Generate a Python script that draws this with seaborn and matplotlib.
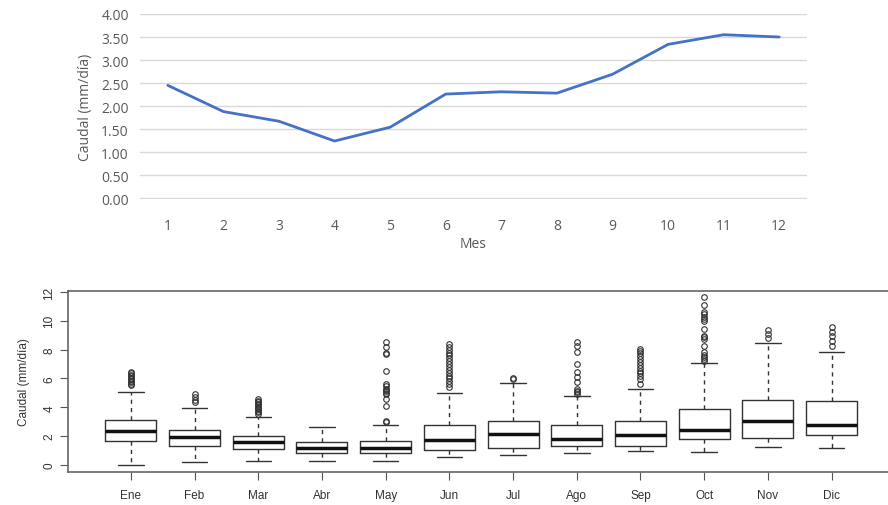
import pandas as pd
import seaborn as sns
import matplotlib.pyplot as plt

# monthly mean discharge (top panel)
meses = list(range(1, 13))
caudal_medio = [2.45, 1.88, 1.67, 1.24, 1.54, 2.26, 2.31, 2.28, 2.69, 3.34, 3.55, 3.50]

# boxplot statistics (bottom panel)
etiquetas = ["Ene", "Feb", "Mar", "Abr", "May", "Jun", "Jul", "Ago", "Sep", "Oct", "Nov", "Dic"]
bigote_inf = [0.00, 0.19, 0.28, 0.28, 0.28, 0.53, 0.69, 0.81, 0.97, 0.88, 1.23, 1.18]
q1 = [1.69, 1.34, 1.11, 0.83, 0.81, 1.04, 1.20, 1.34, 1.34, 1.80, 1.85, 2.10]
mediana = [2.38, 1.96, 1.57, 1.18, 1.18, 1.73, 2.15, 1.80, 2.10, 2.45, 3.07, 2.80]
q3 = [3.12, 2.43, 2.03, 1.57, 1.64, 2.77, 3.03, 2.77, 3.03, 3.88, 4.53, 4.46]
bigote_sup = [5.06, 3.93, 3.31, 2.61, 2.80, 4.97, 5.66, 4.81, 5.27, 7.05, 8.44, 7.82]
atipicos = [
    [5.55, 5.65, 5.75, 5.85, 5.95, 6.05, 6.15, 6.25, 6.35, 6.47],
    [4.35, 4.50, 4.69, 4.92],
    [3.54, 3.65, 3.75, 3.85, 3.95, 4.05, 4.15, 4.25, 4.35, 4.45, 4.58],
    [],
    [2.95, 3.07, 4.11, 4.6, 4.9, 5.0, 5.1, 5.2, 5.3, 5.5, 5.6, 6.5, 7.7, 7.8, 8.16, 8.51],
    [5.39, 5.6, 5.8, 6.0, 6.2, 6.4, 6.6, 6.8, 7.0, 7.2, 7.4, 7.6, 7.8, 8.0, 8.2, 8.39],
    [5.96, 6.05],
    [4.95, 5.06, 5.15, 5.27, 5.78, 6.08, 6.43, 7.0, 7.81, 8.27, 8.51],
    [5.62, 5.96, 6.15, 6.35, 6.55, 6.75, 6.95, 7.15, 7.35, 7.55, 7.75, 7.9, 8.04],
    [7.23, 7.35, 7.5, 7.65, 7.81, 8.27, 8.74, 8.85, 8.97, 9.43, 10.0, 10.15, 10.3, 10.45, 10.59, 11.12, 11.63],
    [8.81, 9.08, 9.38],
    [8.27, 8.62, 8.97, 9.24, 9.59],
]

sns.set_style("white")
fig = plt.figure(figsize=(8.88, 5.06), dpi=100)

# ---- top: line chart
ax1 = fig.add_axes([140 / 888, (506 - 200) / 506, 667 / 888, 185 / 506])
df = pd.DataFrame({"Mes": meses, "Caudal": caudal_medio})
sns.lineplot(data=df, x="Mes", y="Caudal", ax=ax1, color="#4472C4", linewidth=2)
ax1.set_xlim(0.5, 12.5)
ax1.set_ylim(-0.02, 4)
ax1.set_yticks([i * 0.5 for i in range(9)])
ax1.set_yticklabels(["%.2f" % (i * 0.5) for i in range(9)])
ax1.set_xticks(meses)
ax1.yaxis.grid(True, color="#d9d9d9", linewidth=1)
ax1.set_axisbelow(True)
for s in ax1.spines.values():
    s.set_visible(False)
gris = "#595959"
ax1.tick_params(axis="both", length=0, labelsize=10, labelcolor=gris, pad=8)
ax1.tick_params(axis="x", pad=14)
ax1.set_xlabel("Mes", fontsize=10, color=gris, labelpad=2)
ax1.set_ylabel("Caudal (mm/día)", fontsize=10, color=gris, labelpad=6)
for t in ax1.get_xticklabels() + ax1.get_yticklabels():
    t.set_family("Open Sans")
ax1.xaxis.label.set_family("Open Sans")
ax1.yaxis.label.set_family("Open Sans")

# ---- bottom: boxplot from summary stats
ax2 = fig.add_axes([68 / 888, 33 / 506, 826 / 888, 181 / 506])
stats = []
for i in range(12):
    stats.append({
        "whislo": bigote_inf[i], "q1": q1[i], "med": mediana[i],
        "q3": q3[i], "whishi": bigote_sup[i], "fliers": atipicos[i],
    })
ax2.bxp(stats, positions=range(1, 13), widths=0.8, capwidths=0.4,
        boxprops=dict(color="#333333", linewidth=1),
        medianprops=dict(color="#111111", linewidth=2.5),
        whiskerprops=dict(color="#333333", linewidth=1, linestyle=(0, (3, 3))),
        capprops=dict(color="#333333", linewidth=1),
        flierprops=dict(marker="o", markerfacecolor="none", markeredgecolor="#333333",
                        markersize=4, markeredgewidth=0.8))
ax2.set_xlim(0.013, 12.98)
ax2.set_ylim(-0.49, 12.07)
ax2.set_xticks(range(1, 13))
ax2.set_xticklabels(etiquetas)
ax2.set_yticks(range(0, 13, 2))
for s in ax2.spines.values():
    s.set_visible(True)
    s.set_color("#666666")
    s.set_linewidth(1.2)
ax2.tick_params(axis="both", direction="out", length=6, width=0.8, color="#555555",
                labelsize=8.5, labelcolor="#333333", bottom=True, left=True)
ax2.tick_params(axis="x", pad=6)
ax2.tick_params(axis="y", pad=3)
plt.setp(ax2.get_yticklabels(), rotation=90, va="center")
ax2.set_ylabel("Caudal (mm/día)", fontsize=8.5, color="#333333", labelpad=10)
for t in ax2.get_xticklabels() + ax2.get_yticklabels():
    t.set_family("Liberation Sans")
ax2.yaxis.label.set_family("Liberation Sans")

fig.savefig("out.png", dpi=100)
